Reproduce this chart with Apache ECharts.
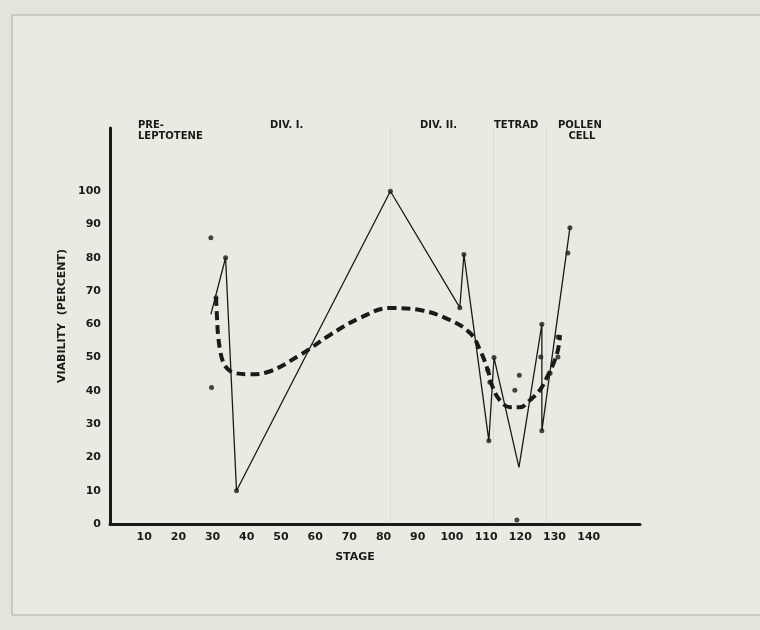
<!DOCTYPE html>
<html>
<head>
<meta charset="utf-8">
<script src="https://cdn.jsdelivr.net/npm/echarts@6/dist/echarts.min.js"></script>
<style>
  html, body { margin: 0; padding: 0; background: #e2e5d9; }
  #main { width: 760px; height: 630px; }
</style>
</head>
<body>
<div id="main"></div>
<script>
// 实线（观测值连线）
var lineX = [29.5, 33.8, 37, 82, 102.3, 103.5, 110.8, 112.3, 119.6, 126.3, 126.3, 134.5];
var lineY = [63, 80, 10, 100, 65, 81, 25, 50, 17, 60, 28, 89];
// 散点
var dotX = [33.8, 37, 82, 102.3, 103.5, 110.8, 112.3, 126.3, 126.3, 134.5,
            29.5, 29.7, 31, 119.7, 118.4, 119, 126, 131, 131, 128.7, 133.9, 110.5, 111.1];
var dotY = [80, 10, 100, 65, 81, 25, 50, 60, 28, 89,
            86, 41, 68, 44.7, 40.2, 1.2, 50.2, 56.2, 50.2, 45.3, 81.4, 46.2, 42.6];
// 虚线拟合曲线
var curveX = [31, 31.3, 31.6, 32.2, 33, 34.5, 36.8, 40.9, 45.9, 55.6, 64.3, 73.1, 81.9, 90.6, 99.4,
              105.3, 108.2, 110.5, 111.7, 114, 117, 119.9, 122.8, 125.7, 128.1, 129.5, 131, 131.6];
var curveY = [68.2, 61.9, 56.8, 52.3, 48.9, 46.5, 45.3, 45, 45.6, 50.8, 56.8, 61.9, 64.9, 64.3, 61.3,
              57.4, 52.3, 46.2, 41.7, 37.2, 35.1, 35.1, 37.2, 40.2, 44.7, 47.7, 52.3, 56.8];
// 阶段分隔（淡虚线）
var stageLines = [81.9, 112, 127.5];
// 阶段标题
var stageNames = ['PRE-\nLEPTOTENE', 'DIV. I.', 'DIV. II.', 'TETRAD', 'POLLEN\n   CELL'];
var stageNameX = [138, 270, 420, 494, 558];

function pairs(xs, ys) {
    var out = [];
    for (var i = 0; i < xs.length; i++) { out.push([xs[i], ys[i]]); }
    return out;
}

var myChart = echarts.init(document.getElementById('main'));
var font = 'DejaVu Sans';
var ink = '#1a1a18';

var graphics = [
    {
        type: 'rect', silent: true, z: -10,
        shape: { x: 12, y: 15, width: 760, height: 600 },
        style: { fill: '#e9ebe2', stroke: '#a9ad9f', lineWidth: 1 }
    },
    {
        type: 'text', x: 62, y: 316, rotation: Math.PI / 2,
        style: { text: 'VIABILITY  (PERCENT)', fill: ink, font: 'bold 11px ' + font, textAlign: 'center', textVerticalAlign: 'middle' }
    },
    {
        type: 'text', x: 355, y: 557,
        style: { text: 'STAGE', fill: ink, font: 'bold 11px ' + font, textAlign: 'center', textVerticalAlign: 'middle' }
    }
];
for (var i = 0; i < stageNames.length; i++) {
    graphics.push({
        type: 'text', x: stageNameX[i], y: 120,
        style: { text: stageNames[i], fill: ink, font: 'bold 10px ' + font, lineHeight: 11 }
    });
}

var markData = [];
for (var j = 0; j < stageLines.length; j++) { markData.push({ xAxis: stageLines[j] }); }

option = {
    backgroundColor: '#e2e5d9',
    animation: false,
    grid: { left: 110, right: 120, top: 128, bottom: 106 },
    xAxis: {
        type: 'value',
        min: 0, max: 155, interval: 10,
        splitLine: { show: false },
        axisTick: { show: false },
        axisLine: { onZero: false, lineStyle: { color: ink, width: 3 } },
        axisLabel: {
            color: ink, fontFamily: font, fontWeight: 'bold', fontSize: 11, margin: 8,
            formatter: function (v) { return (v >= 10 && v <= 140) ? v : ''; }
        }
    },
    yAxis: {
        type: 'value',
        min: 0, max: 119, interval: 10,
        splitLine: { show: false },
        axisTick: { show: false },
        axisLine: { show: true, lineStyle: { color: ink, width: 3 } },
        axisLabel: {
            color: ink, fontFamily: font, fontWeight: 'bold', fontSize: 11, margin: 9,
            showMaxLabel: false,
            formatter: function (v) { return v <= 100 ? v : ''; }
        }
    },
    graphic: graphics,
    series: [
        {
            type: 'line',
            data: pairs(curveX, curveY),
            smooth: 0.4,
            showSymbol: false,
            lineStyle: { color: ink, width: 4, type: [9, 5] },
            markLine: {
                silent: true, symbol: 'none', label: { show: false },
                lineStyle: { color: 'rgba(120,120,110,0.25)', width: 1, type: 'dotted' },
                data: markData
            },
            z: 3
        },
        {
            type: 'line',
            data: pairs(lineX, lineY),
            showSymbol: false,
            lineStyle: { color: ink, width: 1.3 },
            z: 4
        },
        {
            type: 'scatter',
            data: pairs(dotX, dotY),
            symbolSize: 5,
            itemStyle: { color: ink },
            z: 5
        }
    ]
};
myChart.setOption(option);
</script>
</body>
</html>
